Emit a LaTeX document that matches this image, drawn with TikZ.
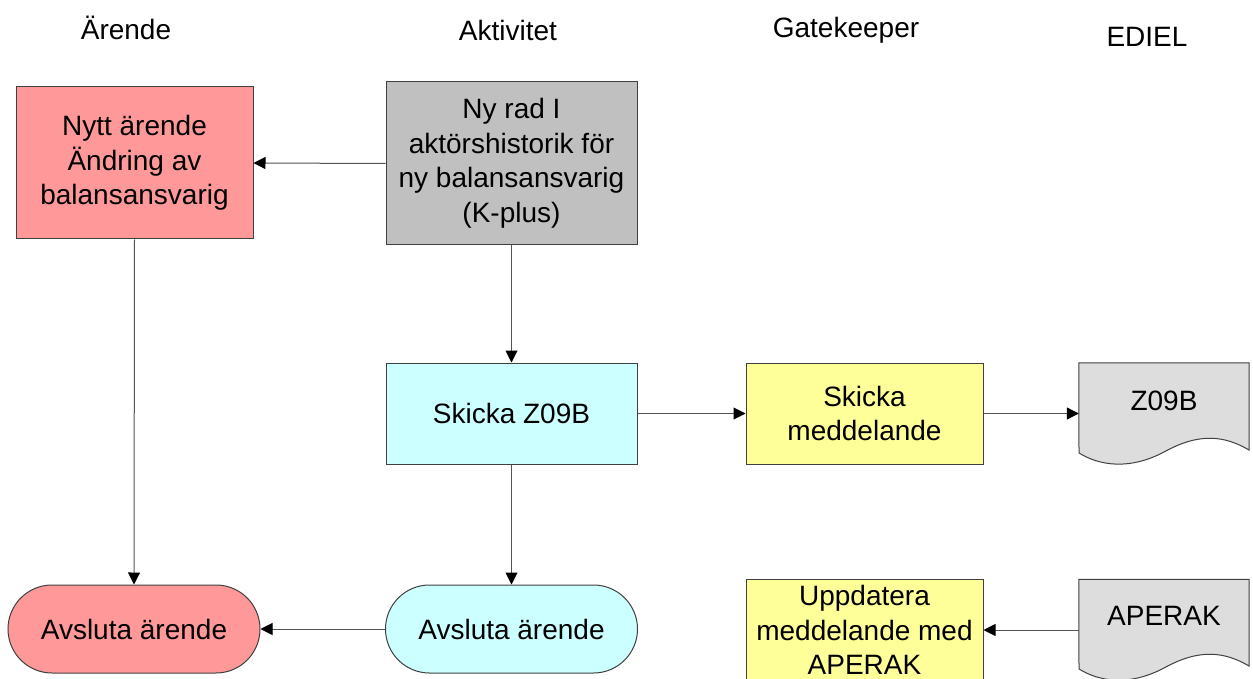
\documentclass[tikz,border=0pt]{standalone}
\usepackage{fontspec}
\setmainfont{Liberation Sans}
\usetikzlibrary{arrows.meta,shapes.misc}
\definecolor{redf}{HTML}{FF9999}
\definecolor{grayf}{HTML}{C0C0C0}
\definecolor{cyanf}{HTML}{CCFFFF}
\definecolor{yelf}{HTML}{FFFF99}
\definecolor{docf}{HTML}{DDDDDD}
\definecolor{edge}{HTML}{404040}
\tikzset{
  every node/.style={font=\fontsize{28}{34.5}\selectfont, align=center, inner sep=0pt},
  boxnode/.style={draw=edge, line width=1pt, rectangle, minimum width=#1},
  termnode/.style={draw=edge, line width=1pt, rounded rectangle, minimum width=252pt, minimum height=88pt},
  hdr/.style={},
  conn/.style={draw=edge!90, line width=1pt, -{Triangle[length=12pt,width=12pt,fill=black,color=black]}},
  docshape/.style={draw=edge, line width=1pt, fill=docf},
}
\begin{document}
\begin{tikzpicture}[x=1pt,y=-1pt]
\useasboundingbox (0,0) rectangle (1253,679);
\clip (0,0) rectangle (1253,679);
% headers
\node[hdr] (h1) at (126,28) {Ärende};
\node[hdr] (h2) at (508,30) {Aktivitet};
\node[hdr] (h3) at (846,30) {Gatekeeper};
\node[hdr] (h4) at (1147,37) {EDIEL};
% boxes
\node[boxnode=237pt, minimum height=152pt, fill=redf] (nytt) at (134.5,163) {Nytt ärende\\Ändring av\\balansansvarig};
\node[boxnode=251pt, minimum height=163pt, fill=grayf] (nyrad) at (511.5,163.5) {Ny rad I\\aktörshistorik för\\ny balansansvarig\\(K-plus)};
\node[boxnode=251pt, minimum height=101pt, fill=cyanf] (skz) at (511.5,413.5) {Skicka Z09B};
\node[boxnode=237pt, minimum height=101pt, fill=yelf] (skm) at (864.5,413.5) {Skicka\\meddelande};
\node[termnode, fill=redf] (avr) at (134,629) {Avsluta ärende};
\node[termnode, fill=cyanf] (avc) at (511.5,629) {Avsluta ärende};
\node[boxnode=237pt, minimum height=102pt, fill=yelf] (upd) at (864.5,630) {Uppdatera\\meddelande med\\APERAK};
% documents
\node[minimum width=170pt, minimum height=101pt] (docz) at (1164,413.5) {};
\path[docshape] (docz.north west) -- (docz.north east) -- (1249,450)
  .. controls (1225,436) and (1200,432) .. (1164,452)
  .. controls (1130,470) and (1100,466) .. (1079,453) -- cycle;
\node (doczt) at (1164,401) {Z09B};
\node[minimum width=170pt, minimum height=101pt] (doca) at (1164,630) {};
\path[docshape] (doca.north west) -- (doca.north east) -- (1249,666)
  .. controls (1225,652) and (1200,648) .. (1164,668)
  .. controls (1130,686) and (1100,682) .. (1079,669) -- cycle;
\node (docat) at (1164,616) {APERAK};
% connectors
\draw[conn] (nyrad.west) -- (nytt.east);
\draw[conn] (nyrad.south) -- (skz.north);
\draw[conn] (nytt.south) -- (avr.north);
\draw[conn] (skz.south) -- (avc.north);
\draw[conn] (avc.west) -- (avr.east);
\draw[conn] (skz.east) -- (skm.west);
\draw[conn] (skm.east) -- (docz.west);
\draw[conn] (doca.west) -- (upd.east);
\end{tikzpicture}
\end{document}
